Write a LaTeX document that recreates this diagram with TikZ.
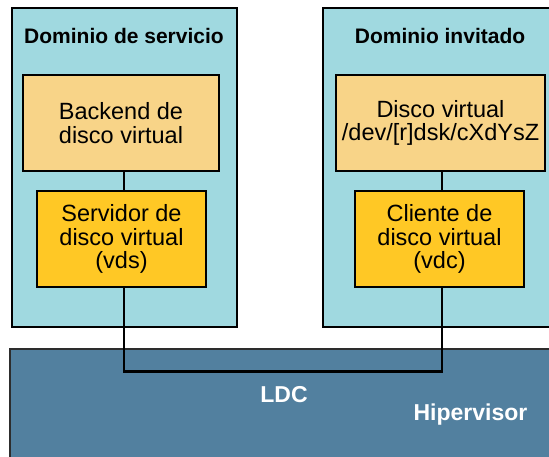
\documentclass[tikz,border=0pt]{standalone}
\usepackage{fontspec}
\setmainfont{Liberation Sans}
\definecolor{domfill}{RGB}{160,217,224}
\definecolor{backfill}{RGB}{248,212,136}
\definecolor{drvfill}{RGB}{255,200,37}
\definecolor{hypfill}{RGB}{82,128,159}
\definecolor{hypedge}{RGB}{45,45,45}
\tikzset{
  boxbase/.style={rectangle, inner sep=0pt, outer sep=0pt, anchor=north west},
  domainbox/.style={boxbase, draw=black, line width=2.3pt, fill=domfill},
  backbox/.style={boxbase, draw=black, line width=2.8pt, fill=backfill,
    align=center, font=\fontsize{23.5}{23.3}\selectfont},
  drvbox/.style={backbox, fill=drvfill},
  hypbox/.style={boxbase, draw=hypedge, line width=2pt, fill=hypfill},
  title/.style={anchor=base, inner sep=0pt, font=\bfseries\fontsize{21}{24}\selectfont},
  hyplabel/.style={anchor=base, inner sep=0pt, text=white, font=\bfseries\fontsize{23}{26}\selectfont},
  link/.style={draw=black, line width=2.3pt}
}
\begin{document}
\begin{tikzpicture}[x=1pt,y=-1pt]
  \useasboundingbox (0,0) rectangle (549,457);
  \clip (0,0) rectangle (549,457);

  % hypervisor layer
  \node[hypbox, minimum width=560pt, minimum height=130pt] (hyp) at (9.5,349) {};

  % domains
  \node[domainbox, minimum width=225pt, minimum height=319pt] (sdom) at (12,8) {};
  \node[domainbox, minimum width=240pt, minimum height=319pt] (gdom) at (323,8) {};
  \node[title] (sdomt) at (124,44) {Dominio de servicio};
  \node[title] (gdomt) at (440,44) {Dominio invitado};

  % connector routes
  \coordinate (lx) at (124,0);
  \coordinate (rx) at (442,0);
  \coordinate (ly) at (0,371.5);

  % devices
  \node[backbox, minimum width=196pt, minimum height=96pt] (back) at (23,75)
    {Backend de\\disco virtual};
  \node[backbox, minimum width=209pt, minimum height=96pt] (vdisk) at (336,75)
    {Disco virtual\\/dev/[r]dsk/cXdYsZ};
  \node[drvbox, minimum width=169pt, minimum height=96pt] (vds) at (37,191)
    {Servidor de\\disco virtual\\(vds)};
  \node[drvbox, minimum width=169pt, minimum height=96pt] (vdc) at (355,191)
    {Cliente de\\disco virtual\\(vdc)};

  \draw[link] (back.south -| lx) -- (vds.north -| lx);
  \draw[link] (vdisk.south -| rx) -- (vdc.north -| rx);
  \draw[link] (vds.south -| lx) |- (ly -| rx) -- (vdc.south -| rx);

  % hypervisor labels
  \node[hyplabel] (ldc) at (284,402) {LDC};
  \node[hyplabel] (hypt) at (470.5,420) {Hipervisor};
\end{tikzpicture}
\end{document}
